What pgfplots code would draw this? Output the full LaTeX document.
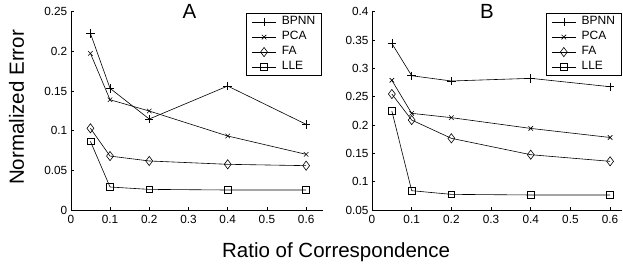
\documentclass[border=0pt]{standalone}
\usepackage{fontspec}
\setmainfont{Liberation Sans}
\usepackage{pgfplots}
\pgfplotsset{compat=1.18}
\begin{document}
\begin{tikzpicture}
\useasboundingbox (0pt,0pt) rectangle (623pt,268pt);
\pgfplotsset{
  common/.style={
    scale only axis,
    anchor=south west,
    axis lines=left,
    axis line style={-, line width=0.6pt},
    tick align=inside,
    major tick length=3pt,
    tick style={line width=0.5pt, black},
    /pgf/number format/assume math mode=true,
    /pgf/number format/fixed,
    /pgf/number format/precision=2,
    tick label style={font=\fontsize{11.8}{14}\selectfont},
    xticklabel style={yshift=-1.5pt},
    xtick={0,0.1,0.2,0.3,0.4,0.5,0.6},
    xmin=0,
    clip=false,
    every axis title shift=0pt,
    title style={font=\fontsize{20.5}{24}\selectfont, anchor=base},
    legend cell align=left,
    legend image code/.code={\draw[mark repeat=2,mark phase=2] plot coordinates {(0pt,0pt) (12pt,0pt) (24pt,0pt)};},
    legend style={anchor=north east, draw=black, line width=0.6pt,
      font=\fontsize{12}{14}\selectfont, inner xsep=5pt, inner ysep=1pt, column sep=4pt,
      nodes={inner sep=1.5pt, text height=8.7pt, text depth=3.3pt}},
    every axis plot/.append style={black, line width=0.6pt, mark options={solid, fill=none}},
  },
  bp/.style={mark=+, mark size=4.2pt},
  pc/.style={mark=x, mark size=3.2pt},
  fa/.style={mark=diamond, mark size=4.6pt},
  ll/.style={mark=square, mark size=3.4pt},
}
\begin{axis}[common,
  at={(70.8pt,58pt)}, width=252.2pt, height=198.3pt,
  xmax=0.643, ymin=0, ymax=0.25,
  ytick={0,0.05,0.1,0.15,0.2,0.25},
  title={A}, title style={at={(rel axis cs:0.47,0.968)}},
  ylabel={Normalized Error},
  ylabel style={at={(rel axis cs:-0.215,0.517)}, anchor=center, font=\fontsize{20.5}{24}\selectfont},
  xlabel={Ratio of Correspondence},
  xlabel style={at={(rel axis cs:1.052,-0.242)}, anchor=base, font=\fontsize{20.5}{24}\selectfont},
  legend style={at={(rel axis cs:0.996,0.992)}},
]
\addplot[bp] coordinates {(0.05,0.2227) (0.1,0.1534) (0.2,0.1147) (0.4,0.1563) (0.6,0.108)};
\addplot[pc] coordinates {(0.05,0.1975) (0.1,0.139) (0.2,0.1248) (0.4,0.0933) (0.6,0.0702)};
\addplot[fa] coordinates {(0.05,0.103) (0.1,0.068) (0.2,0.0618) (0.4,0.0576) (0.6,0.0559)};
\addplot[ll] coordinates {(0.05,0.0866) (0.1,0.029) (0.2,0.026) (0.4,0.0252) (0.6,0.0252)};
\legend{BPNN,PCA,FA,LLE}
\end{axis}
\begin{axis}[common,
  at={(372pt,58pt)}, width=250pt, height=198.3pt,
  xmax=0.630, ymin=0.05, ymax=0.4,
  ytick={0.05,0.1,0.15,0.2,0.25,0.3,0.35,0.4},
  title={B}, title style={at={(rel axis cs:0.46,0.968)}},
  legend style={at={(rel axis cs:0.999,0.992)}},
]
\addplot[bp] coordinates {(0.05,0.344) (0.1,0.287) (0.2,0.2777) (0.4,0.2824) (0.6,0.2676)};
\addplot[pc] coordinates {(0.05,0.279) (0.1,0.2206) (0.2,0.213) (0.4,0.194) (0.6,0.178)};
\addplot[fa] coordinates {(0.05,0.2547) (0.1,0.2088) (0.2,0.1765) (0.4,0.1476) (0.6,0.1359)};
\addplot[ll] coordinates {(0.05,0.2247) (0.1,0.0841) (0.2,0.0776) (0.4,0.0765) (0.6,0.0765)};
\legend{BPNN,PCA,FA,LLE}
\end{axis}
\end{tikzpicture}
\end{document}
